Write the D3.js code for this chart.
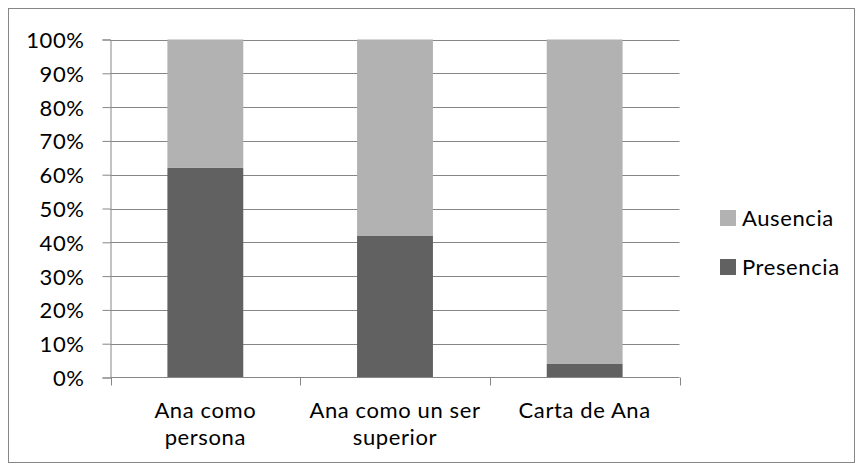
<!DOCTYPE html>
<html>
<head>
<meta charset="utf-8">
<script src="https://cdn.jsdelivr.net/npm/d3@7"></script>
<style>
  html, body { margin: 0; padding: 0; background: #fff; }
  svg text { font-family: Lato, "Open Sans", sans-serif; fill: #000; letter-spacing: 0.6px; }
</style>
</head>
<body>
<svg id="chart" width="862" height="472"></svg>
<script>
// Categories, series and axis ticks
const categories = [["Ana como", "persona"], ["Ana como un ser", "superior"], ["Carta de Ana"]];
const presencia = [0.62, 0.42, 0.04];
const ausencia = [0.38, 0.58, 0.96];
const seriesNames = ["Presencia", "Ausencia"];
const seriesColors = ["#616161", "#b2b2b2"];
const yTicks = [0, 0.1, 0.2, 0.3, 0.4, 0.5, 0.6, 0.7, 0.8, 0.9, 1.0];

const fontSize = 22;
const svg = d3.select("#chart");

// Outer chart frame
svg.append("rect")
  .attr("x", 8.5).attr("y", 8.5)
  .attr("width", 846).attr("height", 454)
  .attr("fill", "#fff").attr("stroke", "#868686").attr("stroke-width", 1);

const plotLeft = 110.5, plotRight = 679.5, plotTop = 39.5, plotBottom = 377.5;

const x = d3.scaleBand()
  .domain(d3.range(categories.length))
  .range([plotLeft, plotRight])
  .paddingInner(0.6).paddingOuter(0.3);

const y = d3.scaleLinear().domain([0, 1]).range([plotBottom, plotTop]);

// Horizontal gridlines
svg.append("g").selectAll("line")
  .data(yTicks.filter(d => d > 0))
  .join("line")
  .attr("x1", plotLeft).attr("x2", plotRight)
  .attr("y1", d => Math.round(y(d)) + 0.5).attr("y2", d => Math.round(y(d)) + 0.5)
  .attr("stroke", "#868686").attr("stroke-width", 1);

// Stacked bars
const stackData = categories.map((c, i) => ({ i, Presencia: presencia[i], Ausencia: ausencia[i] }));
const stacked = d3.stack().keys(seriesNames)(stackData);

svg.append("g").selectAll("g")
  .data(stacked)
  .join("g")
  .attr("fill", (d, k) => seriesColors[k])
  .selectAll("rect")
  .data(d => d)
  .join("rect")
  .attr("x", d => x(d.data.i))
  .attr("width", x.bandwidth())
  .attr("y", d => y(d[1]))
  .attr("height", d => y(d[0]) - y(d[1]));

// Y axis
const yAxis = d3.axisLeft(y)
  .tickValues(yTicks)
  .tickFormat(d3.format(".0%"))
  .tickSize(8).tickPadding(18);
const yg = svg.append("g").attr("transform", `translate(${plotLeft},0)`).call(yAxis);
yg.select(".domain").attr("stroke", "#868686");
yg.selectAll(".tick line").attr("stroke", "#868686");
yg.selectAll(".tick text")
  .attr("font-size", fontSize).attr("font-family", "Lato, sans-serif").attr("fill", "#000")
  .attr("dy", "0.36em");

// X axis line and boundary ticks
const xg = svg.append("g");
xg.append("line")
  .attr("x1", plotLeft).attr("x2", plotRight)
  .attr("y1", plotBottom).attr("y2", plotBottom)
  .attr("stroke", "#868686");
const step = (plotRight - plotLeft) / categories.length;
xg.selectAll("line.t")
  .data(d3.range(categories.length + 1))
  .join("line").attr("class", "t")
  .attr("x1", d => Math.round(plotLeft + d * step) + 0.5)
  .attr("x2", d => Math.round(plotLeft + d * step) + 0.5)
  .attr("y1", plotBottom).attr("y2", plotBottom + 8)
  .attr("stroke", "#868686");

// Category labels
xg.selectAll("text.cat")
  .data(categories)
  .join("text").attr("class", "cat")
  .attr("text-anchor", "middle")
  .attr("font-size", fontSize)
  .attr("x", (d, i) => x(i) + x.bandwidth() / 2)
  .attr("y", 418)
  .selectAll("tspan")
  .data(d => d)
  .join("tspan")
  .attr("x", function () { return d3.select(this.parentNode).attr("x"); })
  .attr("dy", (d, j) => j === 0 ? 0 : 27)
  .text(d => d);

// Legend
const legendItems = [
  { name: "Ausencia", color: seriesColors[1] },
  { name: "Presencia", color: seriesColors[0] }
];
const lg = svg.append("g").attr("transform", "translate(720,210)");
const li = lg.selectAll("g").data(legendItems).join("g")
  .attr("transform", (d, i) => `translate(0,${i * 49})`);
li.append("rect").attr("width", 16).attr("height", 16).attr("fill", d => d.color);
li.append("text").attr("x", 22).attr("y", 16).attr("font-size", fontSize).text(d => d.name);
</script>
</body>
</html>
